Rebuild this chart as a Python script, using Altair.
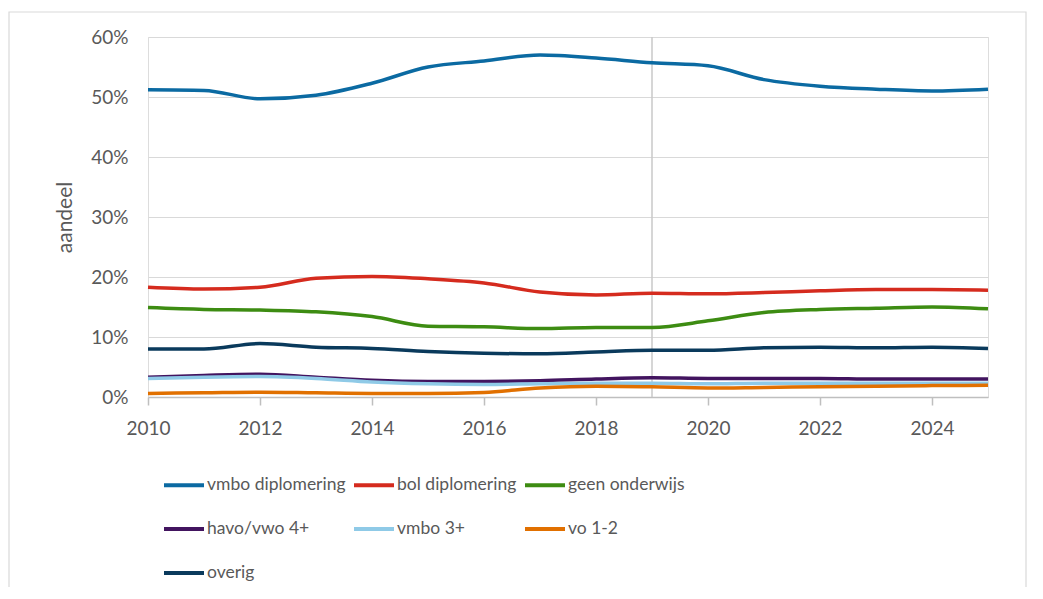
import altair as alt
import pandas as pd

years = list(range(2010, 2026))

series_names = ["vmbo diplomering", "bol diplomering", "geen onderwijs",
                "havo/vwo 4+", "vmbo 3+", "vo 1-2", "overig"]
series_colors = ["#0b6aa2", "#d52b1e", "#3d8c12", "#42145f", "#8fcae7", "#e17000", "#0a3a5c"]

vmbo_diplomering = [51.2, 51.1, 49.7, 50.3, 52.3, 55.0, 56.0, 57.0, 56.5, 55.7, 55.2, 52.9, 51.8, 51.3, 51.0, 51.3]
bol_diplomering = [18.3, 18.0, 18.3, 19.8, 20.1, 19.7, 19.0, 17.5, 17.0, 17.3, 17.2, 17.4, 17.7, 17.9, 17.9, 17.8]
geen_onderwijs = [14.9, 14.6, 14.5, 14.2, 13.4, 11.8, 11.7, 11.4, 11.6, 11.6, 12.7, 14.1, 14.6, 14.8, 15.0, 14.7]
havo_vwo = [3.3, 3.6, 3.8, 3.3, 2.8, 2.6, 2.6, 2.7, 3.0, 3.2, 3.1, 3.1, 3.1, 3.0, 3.0, 3.0]
vmbo_3 = [3.1, 3.3, 3.4, 3.1, 2.5, 2.2, 2.1, 2.2, 2.3, 2.3, 2.2, 2.3, 2.3, 2.3, 2.3, 2.3]
vo_1_2 = [0.6, 0.7, 0.8, 0.7, 0.6, 0.6, 0.75, 1.5, 1.8, 1.7, 1.5, 1.6, 1.7, 1.8, 1.9, 1.95]
overig = [8.0, 8.0, 8.9, 8.3, 8.1, 7.6, 7.3, 7.2, 7.5, 7.8, 7.8, 8.2, 8.3, 8.2, 8.3, 8.1]

x_ticks = [2010, 2012, 2014, 2016, 2018, 2020, 2022, 2024]
y_ticks = [0, 0.1, 0.2, 0.3, 0.4, 0.5, 0.6]
marker_year = [2019]

all_values = [vmbo_diplomering, bol_diplomering, geen_onderwijs, havo_vwo, vmbo_3, vo_1_2, overig]
rows = []
for idx, (name, vals) in enumerate(zip(series_names, all_values)):
    for y, v in zip(years, vals):
        rows.append({"jaar": y, "reeks": name, "aandeel": v / 100.0, "volgorde": idx})
df = pd.DataFrame(rows)

FONT = "Lato"
GREY_TEXT = "#595959"

lines = alt.Chart(df).mark_line(strokeWidth=3.5, interpolate="monotone").encode(
    x=alt.X("jaar:Q",
            scale=alt.Scale(domain=[2010, 2025], nice=False, zero=False),
            axis=alt.Axis(values=x_ticks, format="d", grid=False, title=None,
                          domainColor="#bfbfbf", domainWidth=1.5,
                          tickColor="#bfbfbf", tickWidth=1.5, tickSize=8,
                          labelFontSize=19, labelColor=GREY_TEXT, labelFont=FONT,
                          labelPadding=14, labelFlush=False)),
    y=alt.Y("aandeel:Q",
            scale=alt.Scale(domain=[0, 0.6], nice=False),
            axis=alt.Axis(values=y_ticks, format=".0%", title="aandeel",
                          domain=False, ticks=False, gridColor="#d9d9d9", gridWidth=1.2,
                          labelFontSize=19, labelColor=GREY_TEXT, labelFont=FONT,
                          labelPadding=20, titleFontSize=21, titleFont=FONT,
                          titleColor=GREY_TEXT, titleFontWeight="normal", titlePadding=15)),
    color=alt.Color("reeks:N",
                    scale=alt.Scale(domain=series_names, range=series_colors),
                    sort=series_names,
                    legend=alt.Legend(title=None, orient="none", legendX=14, legendY=426,
                                      direction="horizontal", columns=3, gridAlign="each",
                                      columnPadding=0, rowPadding=13,
                                      symbolType="stroke", symbolSize=1600,
                                      symbolStrokeWidth=4, labelFontSize=17.5,
                                      labelFont=FONT, labelColor=GREY_TEXT,
                                      labelOffset=1, labelLimit=300)),
    order=alt.Order("volgorde:Q"),
    detail="reeks:N",
)

rule = alt.Chart(pd.DataFrame({"jaar": marker_year})).mark_rule(
    color="#c8c8c8", strokeWidth=1.5).encode(
    x="jaar:Q", y=alt.value(0), y2=alt.value(360))

frame = alt.Chart(pd.DataFrame({"k": [0]})).mark_rect(
    fill=None, stroke="#d9d9d9", strokeWidth=1.2).encode(
    x=alt.value(-139), x2=alt.value(878), y=alt.value(-25), y2=alt.value(600))

chart = alt.layer(frame, rule, lines).properties(
    width=840, height=360,
    autosize=alt.AutoSizeParams(type="none"),
    padding={"left": 140, "top": 29, "right": 40, "bottom": 190},
).configure_view(stroke=None).configure(font=FONT)

chart.save("out.html", embed_options={"renderer": "svg", "actions": False})
